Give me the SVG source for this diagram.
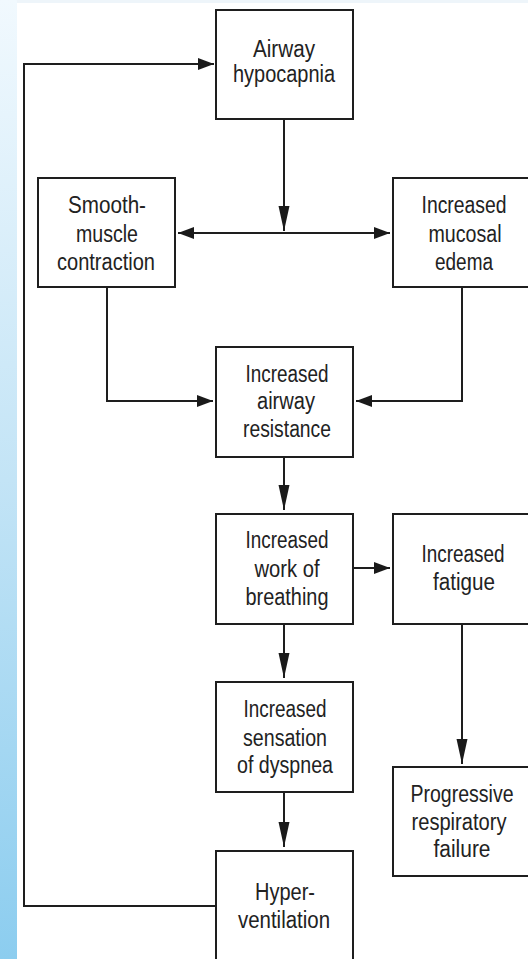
<svg xmlns="http://www.w3.org/2000/svg" width="528" height="959" viewBox="0 0 528 959">
<defs>
<linearGradient id="strip" x1="0" y1="0" x2="0" y2="1">
<stop offset="0" stop-color="#f1f9fe"/>
<stop offset="0.5" stop-color="#c3e4f6"/>
<stop offset="1" stop-color="#8ccdef"/>
</linearGradient>
<marker id="ah" markerWidth="16" markerHeight="12" refX="16" refY="6" orient="auto" markerUnits="userSpaceOnUse">
<path d="M0,0 L16,6 L0,12 Z" fill="#1a1a1a"/>
</marker>
<marker id="av" markerWidth="25" markerHeight="12" refX="25" refY="6" orient="auto" markerUnits="userSpaceOnUse">
<path d="M0,0.5 L25,6 L0,11.5 Z" fill="#1a1a1a"/>
</marker>
<marker id="ahs" markerWidth="16" markerHeight="12" refX="16" refY="6" orient="auto-start-reverse" markerUnits="userSpaceOnUse">
<path d="M0,0 L16,6 L0,12 Z" fill="#1a1a1a"/>
</marker>
</defs>
<style>
.box{fill:#ffffff;stroke:#1e1e1e;stroke-width:2}
.t{font-family:"Liberation Sans",Arial,sans-serif;font-size:23px;fill:#222222;text-anchor:middle}
.c{fill:none;stroke:#1e1e1e;stroke-width:2}
</style>
<rect x="0" y="0" width="528" height="959" fill="#ffffff"/>
<rect x="0" y="0" width="528" height="3" fill="#eef5fa"/>
<rect x="0" y="0" width="17" height="959" fill="url(#strip)"/>

<g id="connectors">
<path class="c" d="M216,906 H24 V64 H214" marker-end="url(#ah)"/>
<path class="c" d="M284,119 V231" marker-end="url(#av)"/>
<path class="c" d="M178,233 H390" marker-start="url(#ahs)" marker-end="url(#ah)"/>
<path class="c" d="M107,287 V401 H213" marker-end="url(#ah)"/>
<path class="c" d="M462,287 V401 H356" marker-end="url(#ah)"/>
<path class="c" d="M284,457 V510" marker-end="url(#av)"/>
<path class="c" d="M353,568 H390" marker-end="url(#ah)"/>
<path class="c" d="M284,624 V678" marker-end="url(#av)"/>
<path class="c" d="M284,792 V847" marker-end="url(#av)"/>
<path class="c" d="M462,624 V764" marker-end="url(#av)"/>
</g>

<g id="airway-hypocapnia">
<rect class="box" x="216" y="10" width="137" height="109"/>
<text class="t" x="284" y="57" textLength="62" lengthAdjust="spacingAndGlyphs">Airway</text>
<text class="t" x="284" y="82" textLength="102" lengthAdjust="spacingAndGlyphs">hypocapnia</text>
</g>

<g id="smooth-muscle">
<rect class="box" x="38" y="178" width="137" height="109"/>
<text class="t" x="107" y="213" textLength="78" lengthAdjust="spacingAndGlyphs">Smooth-</text>
<text class="t" x="107" y="242" textLength="62" lengthAdjust="spacingAndGlyphs">muscle</text>
<text class="t" x="106" y="270" textLength="98" lengthAdjust="spacingAndGlyphs">contraction</text>
</g>

<g id="mucosal-edema">
<rect class="box" x="393" y="178" width="150" height="109"/>
<text class="t" x="464" y="213" textLength="85" lengthAdjust="spacingAndGlyphs">Increased</text>
<text class="t" x="465" y="242" textLength="73" lengthAdjust="spacingAndGlyphs">mucosal</text>
<text class="t" x="464" y="270" textLength="58" lengthAdjust="spacingAndGlyphs">edema</text>
</g>

<g id="airway-resistance">
<rect class="box" x="216" y="347" width="137" height="110"/>
<text class="t" x="287" y="382" textLength="83" lengthAdjust="spacingAndGlyphs">Increased</text>
<text class="t" x="286" y="409" textLength="58" lengthAdjust="spacingAndGlyphs">airway</text>
<text class="t" x="287" y="437" textLength="88" lengthAdjust="spacingAndGlyphs">resistance</text>
</g>

<g id="work-of-breathing">
<rect class="box" x="216" y="514" width="137" height="110"/>
<text class="t" x="287" y="548" textLength="83" lengthAdjust="spacingAndGlyphs">Increased</text>
<text class="t" x="287" y="577" textLength="65" lengthAdjust="spacingAndGlyphs">work of</text>
<text class="t" x="287" y="605" textLength="83" lengthAdjust="spacingAndGlyphs">breathing</text>
</g>

<g id="fatigue">
<rect class="box" x="393" y="514" width="150" height="110"/>
<text class="t" x="463" y="562" textLength="83" lengthAdjust="spacingAndGlyphs">Increased</text>
<text class="t" x="464" y="590" textLength="62" lengthAdjust="spacingAndGlyphs">fatigue</text>
</g>

<g id="dyspnea">
<rect class="box" x="216" y="682" width="137" height="110"/>
<text class="t" x="285" y="717" textLength="83" lengthAdjust="spacingAndGlyphs">Increased</text>
<text class="t" x="285" y="746" textLength="84" lengthAdjust="spacingAndGlyphs">sensation</text>
<text class="t" x="285" y="773" textLength="96" lengthAdjust="spacingAndGlyphs">of dyspnea</text>
</g>

<g id="respiratory-failure">
<rect class="box" x="393" y="767" width="150" height="109"/>
<text class="t" x="462" y="802" textLength="103" lengthAdjust="spacingAndGlyphs">Progressive</text>
<text class="t" x="459" y="830" textLength="95" lengthAdjust="spacingAndGlyphs">respiratory</text>
<text class="t" x="462" y="857" textLength="57" lengthAdjust="spacingAndGlyphs">failure</text>
</g>

<g id="hyperventilation">
<rect class="box" x="216" y="851" width="137" height="130"/>
<text class="t" x="285" y="900" textLength="60" lengthAdjust="spacingAndGlyphs">Hyper-</text>
<text class="t" x="284" y="928" textLength="92" lengthAdjust="spacingAndGlyphs">ventilation</text>
</g>
</svg>
